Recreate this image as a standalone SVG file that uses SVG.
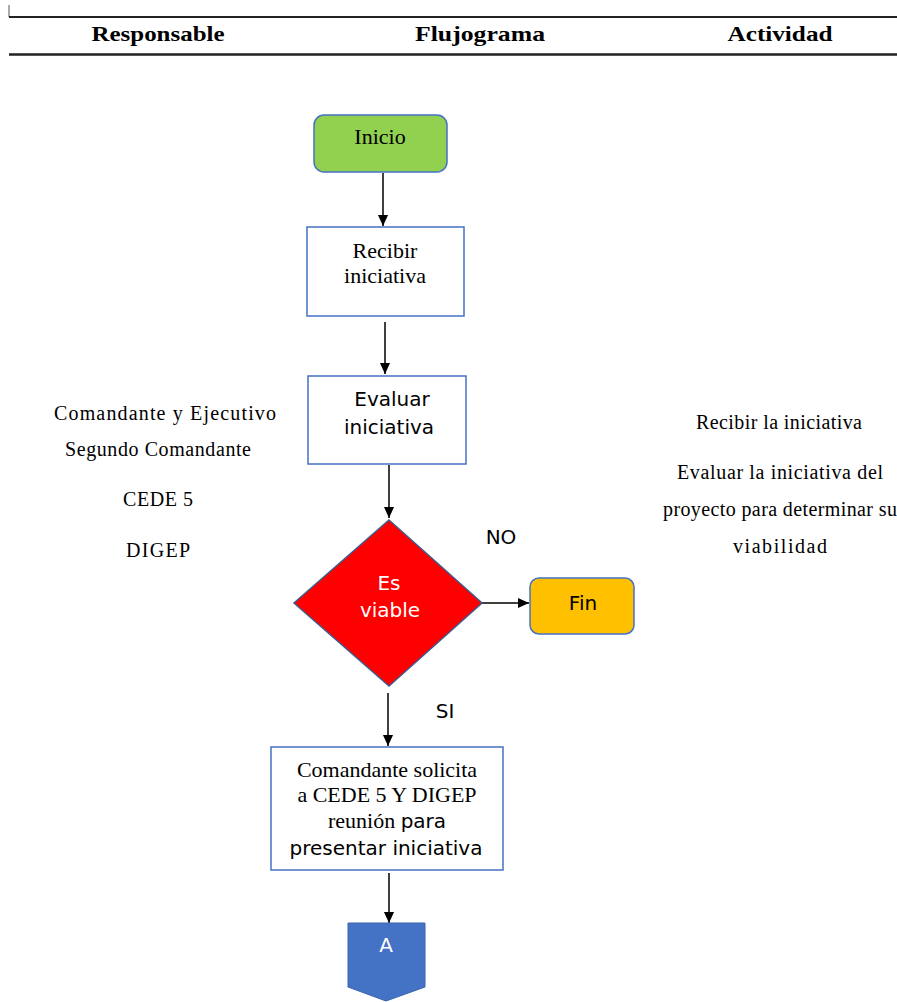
<svg xmlns="http://www.w3.org/2000/svg" width="897" height="1002" viewBox="0 0 897 1002">
  <style>
    .hdr { font-family: "Liberation Serif", serif; font-weight: bold; font-size: 22px; fill: #000; text-anchor: middle; }
    .col { font-family: "Liberation Serif", serif; font-size: 20px; fill: #000; text-anchor: middle; }
    .serif { font-family: "Liberation Serif", serif; font-size: 22px; fill: #000; text-anchor: middle; }
    .sans { font-family: "DejaVu Sans", sans-serif; font-size: 20px; fill: #000; text-anchor: middle; }
    .white { fill: #fff; }
    .box { fill: #fff; stroke: #4472C4; stroke-width: 1.5; }
    .conn line { stroke: #000; stroke-width: 1.5; marker-end: url(#arrow); }
  </style>
  <defs>
    <marker id="arrow" markerWidth="11" markerHeight="12" refX="12" refY="5.5" orient="auto" markerUnits="userSpaceOnUse" viewBox="0 0 12 11">
      <path d="M0,0 L12,5.5 L0,11 z" fill="#000"/>
    </marker>
  </defs>

  <rect width="897" height="1002" fill="#fff"/>

  <!-- table header -->
  <g id="header">
    <line x1="9" y1="5" x2="9" y2="17" stroke="#555" stroke-width="1"/>
    <line x1="9" y1="17" x2="897" y2="17" stroke="#222" stroke-width="2"/>
    <line x1="9" y1="54.5" x2="897" y2="54.5" stroke="#222" stroke-width="2.5"/>
    <text class="hdr" x="158" y="41" textLength="133" lengthAdjust="spacingAndGlyphs">Responsable</text>
    <text class="hdr" x="480" y="41" textLength="130" lengthAdjust="spacingAndGlyphs">Flujograma</text>
    <text class="hdr" x="780" y="41" textLength="105" lengthAdjust="spacingAndGlyphs">Actividad</text>
  </g>

  <!-- responsible column -->
  <g id="responsables">
    <text class="col" x="165" y="420" textLength="222" lengthAdjust="spacing">Comandante y Ejecutivo</text>
    <text class="col" x="158" y="456" textLength="186" lengthAdjust="spacing">Segundo Comandante</text>
    <text class="col" x="158" y="506" textLength="70" lengthAdjust="spacing">CEDE 5</text>
    <text class="col" x="158" y="557" textLength="64" lengthAdjust="spacing">DIGEP</text>
  </g>

  <!-- activity column -->
  <g id="actividades">
    <text class="col" x="779" y="429" textLength="166" lengthAdjust="spacing">Recibir la iniciativa</text>
    <text class="col" x="780" y="479" textLength="206" lengthAdjust="spacing">Evaluar la iniciativa del</text>
    <text class="col" x="780" y="516" textLength="234" lengthAdjust="spacing">proyecto para determinar su</text>
    <text class="col" x="780" y="553" textLength="94" lengthAdjust="spacing">viabilidad</text>
  </g>

  <!-- connectors -->
  <g id="connectors" class="conn">
    <line x1="383" y1="173" x2="383" y2="226"/>
    <line x1="385" y1="322" x2="385" y2="374"/>
    <line x1="389" y1="465" x2="389" y2="518"/>
    <line x1="482" y1="603" x2="529" y2="603"/>
    <line x1="388" y1="693" x2="388" y2="746"/>
    <line x1="389" y1="873" x2="389" y2="923"/>
  </g>

  <g id="inicio">
    <rect x="314" y="115" width="133" height="57" rx="10" fill="#92D050" stroke="#4472C4" stroke-width="1.5"/>
    <text class="serif" x="380" y="144">Inicio</text>
  </g>

  <g id="recibir">
    <rect class="box" x="307" y="227" width="157" height="89"/>
    <text class="serif" x="385" y="258">Recibir</text>
    <text class="serif" x="385" y="283">iniciativa</text>
  </g>

  <g id="evaluar">
    <rect class="box" x="308" y="376" width="158" height="88"/>
    <text class="sans" x="392" y="406">Evaluar</text>
    <text class="sans" x="389" y="434">iniciativa</text>
  </g>

  <g id="decision">
    <polygon points="389,520 482,603 389,686 294,603" fill="#FF0000" stroke="#3F5A8A" stroke-width="1.5"/>
    <text class="sans white" x="389" y="590" font-size="19">Es</text>
    <text class="sans white" x="390" y="617" font-size="19">viable</text>
  </g>

  <g id="labels">
    <text class="sans" x="501" y="544" font-size="17">NO</text>
    <text class="sans" x="445" y="718" font-size="17">SI</text>
  </g>

  <g id="fin">
    <rect x="530" y="578" width="104" height="56" rx="9" fill="#FFC000" stroke="#4472C4" stroke-width="1.5"/>
    <text class="sans" x="583" y="610" font-size="21">Fin</text>
  </g>

  <g id="solicitud">
    <rect class="box" x="271" y="747" width="232" height="123"/>
    <text class="serif" x="387" y="777">Comandante solicita</text>
    <text class="serif" x="387" y="802">a CEDE 5 Y DIGEP</text>
    <text x="387" y="828" text-anchor="middle"><tspan font-family="Liberation Serif, serif" font-size="22px">reunión </tspan><tspan font-family="DejaVu Sans, sans-serif" font-size="20px">para</tspan></text>
    <text class="sans" x="386" y="855" font-size="21">presentar iniciativa</text>
  </g>

  <g id="conector-A">
    <polygon points="348,923 425,923 425,987 386,1001 348,987" fill="#4472C4" stroke="#3A65B0" stroke-width="1"/>
    <text class="sans white" x="386" y="952" font-size="15">A</text>
  </g>
</svg>
